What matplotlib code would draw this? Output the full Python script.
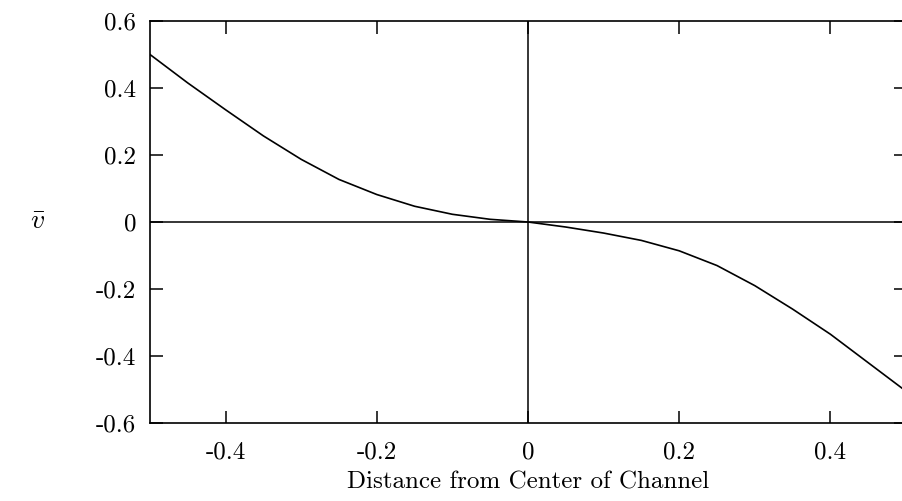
import numpy as np
import matplotlib as mpl
mpl.use('Agg')
import matplotlib.pyplot as plt

# distance from channel centre and mean velocity
dist = [-0.5, -0.45, -0.4, -0.35, -0.3, -0.25, -0.2, -0.15, -0.1, -0.05, 0.0,
        0.05, 0.1, 0.15, 0.2, 0.25, 0.3, 0.35, 0.4, 0.45, 0.5]
vbar = [0.50, 0.415, 0.335, 0.257, 0.187, 0.127, 0.082, 0.047, 0.023, 0.008, 0.0,
        -0.015, -0.033, -0.055, -0.086, -0.13, -0.19, -0.26, -0.335, -0.42, -0.505]

xticks = [-0.4, -0.2, 0, 0.2, 0.4]
xticklabels = ['-0.4', '-0.2', '0', '0.2', '0.4']
yticks = [-0.6, -0.4, -0.2, 0, 0.2, 0.4, 0.6]
yticklabels = ['-0.6', '-0.4', '-0.2', '0', '0.2', '0.4', '0.6']


def main():
    plt.rcParams['font.family'] = 'cmr10'
    plt.rcParams['mathtext.fontset'] = 'cm'

    fig = plt.figure(figsize=(9.03, 5.01), dpi=100)
    ax = fig.add_axes([150 / 903, 1 - 423 / 501, 756 / 903, 402 / 501])

    ax.plot(dist, vbar, color='black', lw=1.2)
    ax.axhline(0, color='black', lw=1.1)
    ax.axvline(0, color='black', lw=1.1)

    ax.set_xlim(-0.5, 0.5)
    ax.set_ylim(-0.6, 0.6)
    ax.set_xticks(xticks)
    ax.set_xticklabels(xticklabels)
    ax.set_yticks(yticks)
    ax.set_yticklabels(yticklabels)
    ax.tick_params(direction='in', length=9, width=1.1, labelsize=18,
                   top=True, right=True)
    ax.tick_params(axis='x', pad=13)
    ax.tick_params(axis='y', pad=10)
    for s in ax.spines.values():
        s.set_linewidth(1.2)

    ax.set_xlabel('Distance from Center of Channel', fontsize=18, labelpad=6)
    fig.text(38 / 903, 1 - 222 / 501, r'$\bar{v}$', fontsize=20,
             ha='center', va='center')

    plt.savefig('out.png', dpi=100)
    plt.close()


if __name__ == '__main__':
    main()
